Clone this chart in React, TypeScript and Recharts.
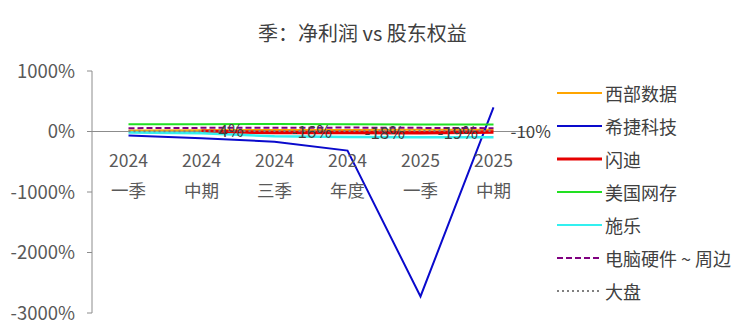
import React from 'react';
import { LineChart, Line, XAxis, YAxis, ReferenceLine, Legend, LabelList } from 'recharts';

// Reporting periods
const categories = ['2024一季', '2024中期', '2024三季', '2024年度', '2025一季', '2025中期'];

// Net profit / shareholders' equity, in percent
const westernDigital = [15, 20, 25, 25, 30, 30];
const seagate = [-65, -110, -170, -315, -2727, 400];
const sandisk = [null, 4, -16, -18, -19, -10];
const netapp = [120, 120, 125, 120, 115, 115];
const xerox = [-15, -30, -80, -90, -95, -95];
const hardwareGroup = [55, 60, 60, 65, 60, 55];
const market = [5, 6, 10, 10, 12, 10];

const yTicks = [-3000, -2000, -1000, 0, 1000];

const FONT = '"Noto Sans CJK SC", "Noto Sans", sans-serif';
const AXIS = '#8c8c8c';
const TEXT = '#595959';

const series = [
  { key: 'wdc', name: '西部数据', values: westernDigital, color: '#FFA500', width: 2, dash: undefined as string | undefined },
  { key: 'stx', name: '希捷科技', values: seagate, color: '#0A0ACC', width: 2, dash: undefined },
  { key: 'sndk', name: '闪迪', values: sandisk, color: '#E60000', width: 3.5, dash: undefined },
  { key: 'ntap', name: '美国网存', values: netapp, color: '#22E022', width: 2, dash: undefined },
  { key: 'xrx', name: '施乐', values: xerox, color: '#33F0F0', width: 2.5, dash: undefined },
  { key: 'hw', name: '电脑硬件 ~ 周边', values: hardwareGroup, color: '#800080', width: 2, dash: '6 3' },
  { key: 'mkt', name: '大盘', values: market, color: '#808080', width: 2, dash: '2 3' },
];

const data = categories.map((cat, i) => {
  const row: Record<string, string | number | null> = { cat, base: 0 };
  series.forEach((s) => {
    row[s.key] = s.values[i];
  });
  return row;
});

// Two-line category label hung under the zero line
const CategoryLabel = (props: any) => {
  const { x, y, value } = props;
  if (x == null || y == null || !value) return null;
  const text = String(value);
  return (
    <g fontFamily={FONT} fontSize={17.5} fill={TEXT} textAnchor="middle">
      <text x={x} y={y + 35}>{text.slice(0, 4)}</text>
      <text x={x} y={y + 65}>{text.slice(4)}</text>
    </g>
  );
};

const ValueLabel = (props: any) => {
  const { x, y, value } = props;
  if (x == null || y == null || value == null) return null;
  return (
    <text x={x + 17} y={y + 6} fontFamily={FONT} fontSize={17} fill="#404040" textAnchor="start">
      {`${value}%`}
    </text>
  );
};

const LegendBox = () => (
  <div style={{ fontFamily: FONT }}>
    {series.map((s) => (
      <div key={s.key} style={{ display: 'flex', alignItems: 'center', height: 33 }}>
        <svg width={48} height={10} style={{ flex: 'none' }}>
          <line x1={2} x2={47} y1={5} y2={5} stroke={s.color} strokeWidth={s.key === 'sndk' ? 3 : 2} strokeDasharray={s.dash} />
        </svg>
        <span style={{ fontSize: 18, color: '#404040', marginLeft: 2, whiteSpace: 'nowrap' }}>{s.name}</span>
      </div>
    ))}
  </div>
);

export default function App() {
  return (
    <div style={{ position: 'absolute', left: 0, top: 0, width: 750, height: 333, background: '#fff' }}>
      <div
        style={{
          position: 'absolute',
          top: 22,
          left: 258,
          fontFamily: FONT,
          fontSize: 20,
          lineHeight: '22px',
          color: '#404040',
          whiteSpace: 'nowrap',
        }}
      >
        季：净利润 vs 股东权益
      </div>
      <LineChart width={750} height={333} data={data} margin={{ top: 71, right: 220, bottom: 20, left: 0 }}>
        <XAxis dataKey="cat" hide padding={{ left: 36.5, right: 36.5 }} />
        <YAxis
          width={92}
          domain={[-3000, 1000]}
          ticks={yTicks}
          interval={0}
          tickFormatter={(v: number) => `${v}%`}
          tick={{ fill: TEXT, fontSize: 18.5, fontFamily: FONT }}
          tickSize={5}
          tickMargin={12}
          axisLine={{ stroke: AXIS }}
          tickLine={{ stroke: AXIS }}
        />
        <ReferenceLine y={0} stroke={AXIS} strokeWidth={1} ifOverflow="extendDomain" />
        <Line dataKey="base" stroke="none" dot={false} activeDot={false} legendType="none" isAnimationActive={false}>
          <LabelList dataKey="cat" content={CategoryLabel} />
        </Line>
        {series.map((s) => (
          <Line
            key={s.key}
            type="linear"
            dataKey={s.key}
            name={s.name}
            stroke={s.color}
            strokeWidth={s.width}
            strokeDasharray={s.dash}
            dot={false}
            activeDot={false}
            connectNulls={false}
            isAnimationActive={false}
          >
            {s.key === 'sndk' ? <LabelList dataKey={s.key} content={ValueLabel} /> : null}
          </Line>
        ))}
        <Legend
          layout="vertical"
          align="center"
          verticalAlign="middle"
          content={LegendBox}
          wrapperStyle={{ left: 555, top: 76, width: 195 }}
        />
      </LineChart>
    </div>
  );
}
